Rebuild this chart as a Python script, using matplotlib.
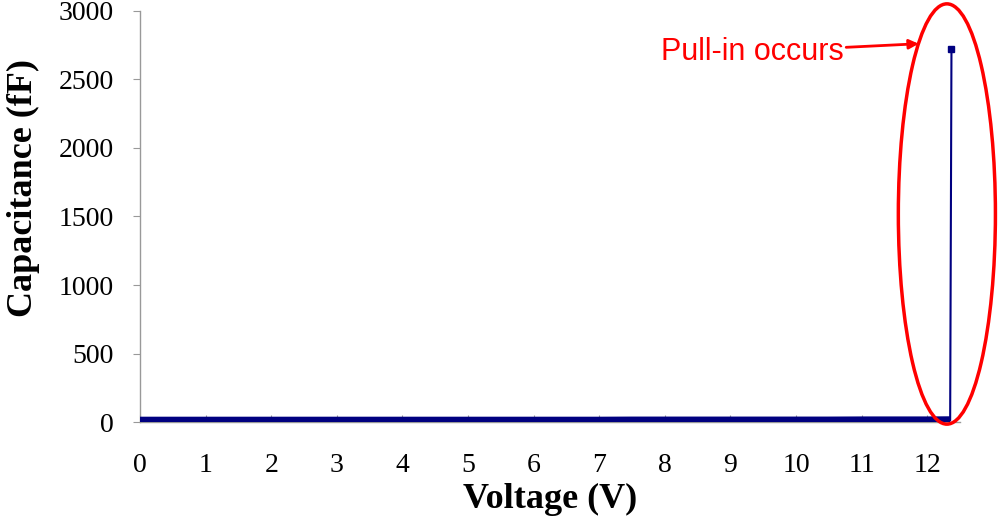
import matplotlib.pyplot as plt
from matplotlib.patches import Ellipse

# Capacitance vs voltage (pull-in at ~12.36 V)
voltage = [0.0, 0.5, 1.0, 1.5, 2.0, 2.5, 3.0, 3.5, 4.0, 4.5, 5.0, 5.5, 6.0,
           6.5, 7.0, 7.5, 8.0, 8.5, 9.0, 9.5, 10.0, 10.5, 11.0, 11.5, 12.0,
           12.35, 12.37]
capacitance = [9, 9, 9, 9, 9, 9, 9, 9, 9, 9, 9, 9, 9,
               9, 9, 10, 10, 10, 10, 10, 10, 10, 11, 11, 11,
               12, 2725]

x_ticks = list(range(0, 13))
y_ticks = [0, 500, 1000, 1500, 2000, 2500, 3000]

plt.rcParams['font.family'] = ['Liberation Serif', 'DejaVu Serif']

fig = plt.figure(figsize=(10, 5.16), dpi=100)
ax = fig.add_axes([0.14, 0.182, 0.82, 0.797])

navy = '#000080'
# thin connecting line + top marker
ax.plot(voltage, capacitance, color=navy, lw=1.5, zorder=3)
ax.plot(voltage[-1:], capacitance[-1:], 's', color=navy, ms=5, zorder=4)
# dense pre pull-in data appears as a thick band
ax.plot(voltage[:-1], capacitance[:-1], color=navy, lw=6,
        solid_capstyle='butt', zorder=3)

ax.set_xlim(0, 12.5)
ax.set_ylim(0, 3000)
ax.set_xticks(x_ticks)
ax.set_yticks(y_ticks)

for s in ['top', 'right']:
    ax.spines[s].set_visible(False)
for s in ['left', 'bottom']:
    ax.spines[s].set_color('#999999')
    ax.spines[s].set_linewidth(1)

ax.tick_params(axis='x', direction='in', length=5, color='#999999',
               labelsize=20, pad=22)
ax.tick_params(axis='y', direction='out', length=5, color='#999999',
               labelsize=20, pad=14)

ax.set_xlabel('Voltage (V)', fontsize=26, fontweight='bold', labelpad=4)
ax.set_ylabel('Capacitance (fF)', fontsize=26, fontweight='bold', labelpad=10)
ax.yaxis.set_label_coords(-0.122, 0.57)

# highlight the pull-in point
ell = Ellipse((12.30, 1518), width=1.48, height=3066, fill=False,
              edgecolor='red', lw=2.5, zorder=5, clip_on=False)
ax.add_patch(ell)
ax.annotate('Pull-in occurs', xy=(11.87, 2760), xytext=(9.33, 2700),
            fontsize=22, color='red', family=['Liberation Sans', 'DejaVu Sans'],
            ha='center', va='center',
            arrowprops=dict(arrowstyle='-|>', color='red', lw=2,
                            mutation_scale=14, shrinkA=0, shrinkB=0),
            annotation_clip=False)

fig.savefig('out.png', dpi=100)
